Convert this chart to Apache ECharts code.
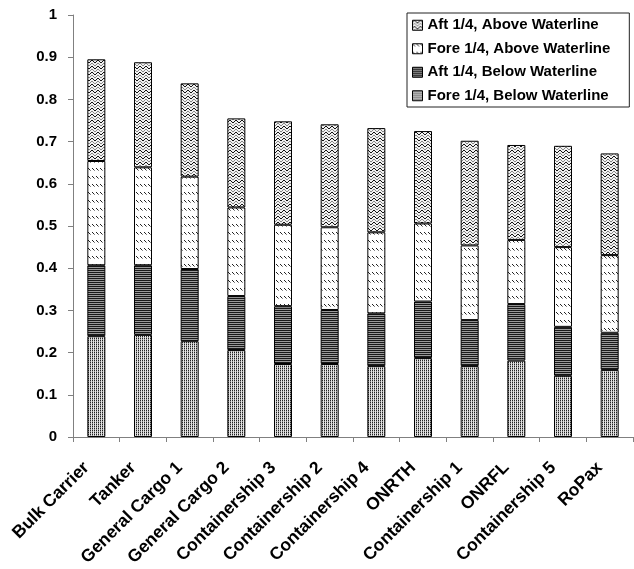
<!DOCTYPE html>
<html>
<head>
<meta charset="utf-8">
<script src="https://cdn.jsdelivr.net/npm/echarts@6/dist/echarts.min.js"></script>
<style>
html,body{margin:0;padding:0;background:#fff;}
#chart{width:634px;height:569px;}
</style>
</head>
<body>
<div id="chart"></div>
<script>
// ---- data ----
const categories = ['Bulk Carrier','Tanker','General Cargo 1','General Cargo 2','Containership 3','Containership 2','Containership 4','ONRTH','Containership 1','ONRFL','Containership 5','RoPax'];
const seriesNames = ['Fore 1/4, Below Waterline','Aft 1/4, Below Waterline','Fore 1/4, Above Waterline','Aft 1/4, Above Waterline'];
const foreBelow = [0.239,0.242,0.227,0.206,0.173,0.173,0.168,0.187,0.168,0.181,0.145,0.159];
const aftBelow  = [0.168,0.165,0.171,0.128,0.137,0.128,0.125,0.134,0.109,0.134,0.116,0.088];
const foreAbove = [0.247,0.232,0.219,0.210,0.193,0.196,0.192,0.185,0.177,0.152,0.189,0.184];
const aftAbove  = [0.241,0.249,0.221,0.211,0.245,0.244,0.247,0.219,0.248,0.225,0.240,0.241];
const yTicks = [0,0.1,0.2,0.3,0.4,0.5,0.6,0.7,0.8,0.9,1];

// ---- patterns ----
function makePattern(w,h,draw){
  const c=document.createElement('canvas');c.width=w;c.height=h;
  const g=c.getContext('2d');draw(g);
  return {image:c,repeat:'repeat'};
}
function px(g,x,y,col){g.fillStyle=col;g.fillRect(x,y,1,1);}
const patFB = makePattern(2,2,g=>{g.fillStyle='#e4e4e4';g.fillRect(0,0,2,2);px(g,0,0,'#222');px(g,0,1,'#999');});
const patAB = makePattern(1,2,g=>{px(g,0,0,'#1a1a1a');px(g,0,1,'#9a9a9a');});
const patFA = makePattern(4,8,g=>{g.fillStyle='#fff';g.fillRect(0,0,4,8);
  px(g,0,0,'#222');px(g,1,1,'#222');px(g,2,2,'#888');});
const patAA = makePattern(6,6,g=>{g.fillStyle='#f2f2f2';g.fillRect(0,0,6,6);
  const wave=[1,0,0,1,2,2];
  wave.forEach((y,x)=>{px(g,x,y,'#111');px(g,x,y+3,'#888');});});
const patterns=[patFB,patAB,patFA,patAA];
const values=[foreBelow,aftBelow,foreAbove,aftAbove];

const chart = echarts.init(document.getElementById('chart'));
const font = 'Liberation Sans';
chart.setOption({
  animation:false,
  backgroundColor:'#fff',
  grid:{left:73,top:15,width:560,height:422,containLabel:false},
  legend:{
    data:seriesNames.slice().reverse(),
    orient:'vertical', left:407, top:13, icon:'rect',
    itemWidth:10,itemHeight:10,itemGap:7,
    borderColor:'#222',borderWidth:1,padding:[4,19,3,5],
    textStyle:{fontFamily:font,fontWeight:'bold',fontSize:15,color:'#000',lineHeight:16.5},
    itemStyle:{borderColor:'#000',borderWidth:1}
  },
  xAxis:{
    type:'category',data:categories,
    axisLine:{lineStyle:{color:'#808080',width:1}},
    axisTick:{show:true,length:5,alignWithLabel:false,lineStyle:{color:'#808080'}},
    axisLabel:{interval:0,rotate:45,margin:18,padding:[0,14,0,0],fontFamily:font,fontWeight:'bold',fontSize:17.5,color:'#000'}
  },
  yAxis:{
    type:'value',min:0,max:1,interval:0.1,
    axisLine:{show:true,lineStyle:{color:'#808080',width:1}},
    axisTick:{show:true,length:5,lineStyle:{color:'#808080'}},
    splitLine:{show:false},
    axisLabel:{margin:16,fontFamily:font,fontWeight:'bold',fontSize:15,color:'#000',
      formatter:v=>String(Math.round(v*10)/10)}
  },
  series:seriesNames.map((n,i)=>({
    name:n,type:'bar',stack:'total',barWidth:18,
    data:values[i],
    itemStyle:{color:patterns[i],borderColor:'#000',borderWidth:1}
  }))
});
</script>
</body>
</html>
